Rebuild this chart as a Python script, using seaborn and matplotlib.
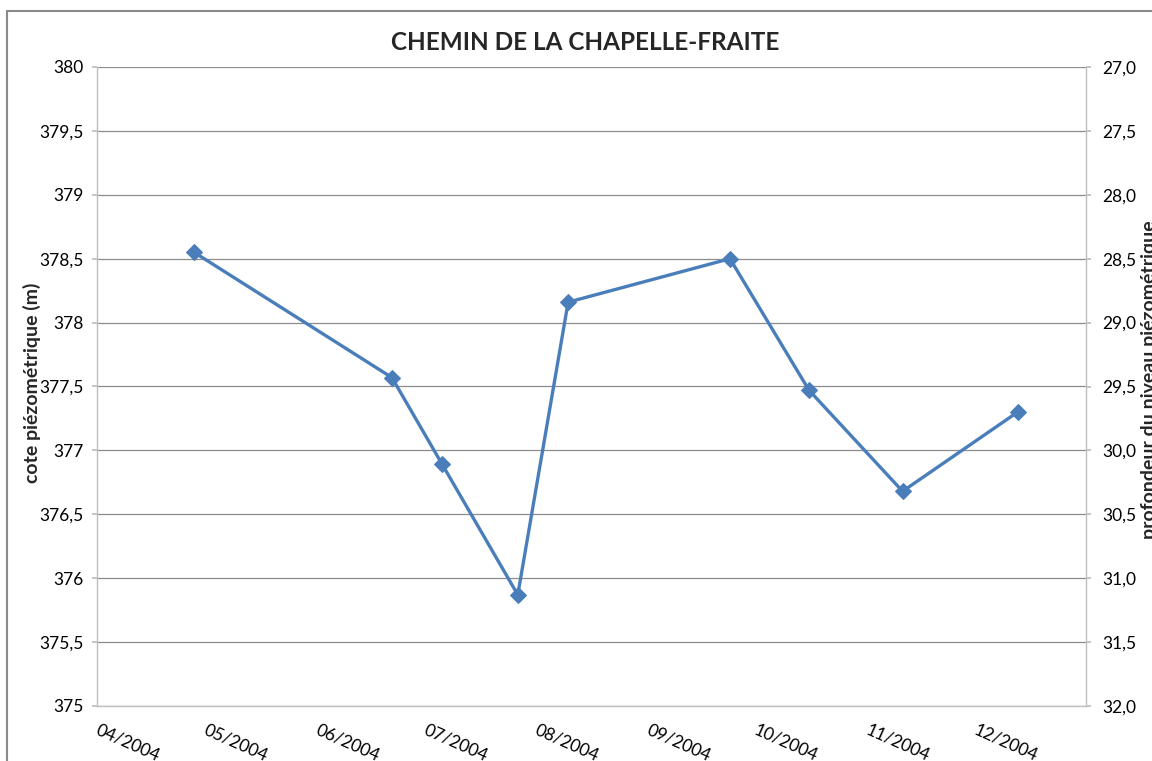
import pandas as pd
import numpy as np
import matplotlib
matplotlib.use("Agg")
import matplotlib.pyplot as plt
from matplotlib.ticker import FuncFormatter, MultipleLocator
from matplotlib.patches import Rectangle
from matplotlib.transforms import ScaledTranslation
import seaborn as sns

# measurement dates and piezometric levels (m)
dates = ["2004-04-28", "2004-06-22", "2004-07-06", "2004-07-27", "2004-08-10",
         "2004-09-24", "2004-10-16", "2004-11-11", "2004-12-13"]
cote = [378.55, 377.57, 376.89, 375.87, 378.16, 378.50, 377.47, 376.68, 377.30]

title = "CHEMIN DE LA CHAPELLE-FRAITE"
ylabel_left = "cote piézométrique (m)"
ylabel_right = "profondeur du niveau piézométrique"

df = pd.DataFrame({"date": pd.to_datetime(dates), "cote": cote})

sns.set_theme(style="white")
plt.rcParams["font.family"] = ["Lato", "DejaVu Sans"]

W, H = 1152, 761
fig = plt.figure(figsize=(W / 100, H / 100), dpi=100)
ax = fig.add_axes([97 / W, 1 - 706 / H, (1086 - 97) / W, (706 - 67) / H])

line_col = "#4a7ebb"
sns.lineplot(data=df, x="date", y="cote", ax=ax, color=line_col, linewidth=2.4,
             marker="D", markersize=8, markeredgecolor=line_col)

ax.set_xlim(pd.Timestamp("2004-04-01"), pd.Timestamp("2005-01-01"))
ax.set_ylim(375, 380)
ax.yaxis.set_major_locator(MultipleLocator(0.5))
ax.yaxis.set_major_formatter(FuncFormatter(
    lambda v, p: ("%g" % v).replace(".", ",")))
ax.grid(axis="y", color="#8c8c8c", linewidth=0.9)
ax.set_axisbelow(True)

fs = 12.5
months = pd.date_range("2004-04-01", "2004-12-01", freq="MS")
ax.set_xticks(months)
ax.set_xticklabels([m.strftime("%m/%Y") for m in months], rotation=-24,
                   ha="left", va="center", rotation_mode="anchor", fontsize=fs)
# nudge the slanted labels so they start just right of their tick
shift = ScaledTranslation(5 / 100, 0, fig.dpi_scale_trans)
for lab in ax.get_xticklabels():
    lab.set_transform(lab.get_transform() + shift)
ax.set_xlabel("")
ax.set_ylabel("")

for s in ["top", "right"]:
    ax.spines[s].set_visible(False)
for s in ["left", "bottom"]:
    ax.spines[s].set_color("#bfbfbf")
    ax.spines[s].set_linewidth(1)
ax.tick_params(axis="both", which="major", direction="out", length=3.6,
               color="#bfbfbf", labelsize=fs, labelcolor="black", pad=6)
ax.tick_params(axis="x", pad=13)

# secondary axis: depth, inverted
ax2 = ax.twinx()
ax2.set_ylim(32, 27)
ax2.yaxis.set_major_locator(MultipleLocator(0.5))
ax2.yaxis.set_major_formatter(FuncFormatter(
    lambda v, p: ("%.1f" % v).replace(".", ",")))
for s in ["top", "left", "bottom"]:
    ax2.spines[s].set_visible(False)
ax2.spines["right"].set_color("#bfbfbf")
ax2.spines["right"].set_linewidth(1)
ax2.tick_params(axis="y", direction="out", length=3.6, color="#bfbfbf",
                labelsize=fs, labelcolor="black", pad=8)
ax2.grid(False)

fig.text(32 / W, 1 - 383 / H, ylabel_left, rotation=90, ha="center",
         va="center", fontsize=14, fontweight="bold")
fig.text(1141 / W, 1 - 380 / H, ylabel_right, rotation=90, ha="left",
         va="center", fontsize=14, fontweight="bold")

fig.text(585 / W, 1 - 43 / H, title, ha="center", va="center",
         fontsize=17.5, fontweight="bold")

# outer chart border
fig.patches.append(Rectangle((7 / W, -0.1), 1.2, 1 - 11 / H + 0.1,
                             transform=fig.transFigure, fill=False,
                             edgecolor="#8a8a8a", linewidth=1.5))

fig.savefig("out.png", dpi=100)
